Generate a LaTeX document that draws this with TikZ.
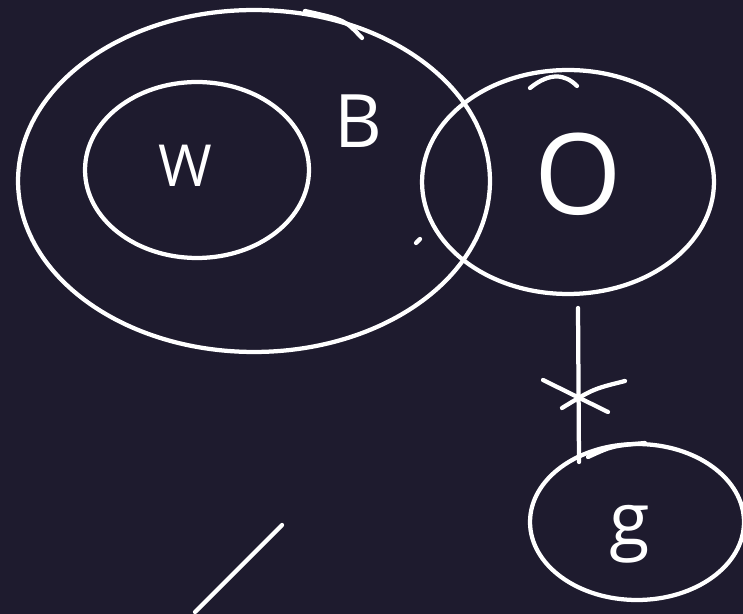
\documentclass[tikz,border=0pt]{standalone}
\usepackage{fontspec}
\setmainfont{Open Sans}
\usetikzlibrary{shapes.geometric}
\definecolor{board}{RGB}{30,27,46}

\begin{document}
\begin{tikzpicture}[x=0.02cm,y=-0.02cm,line width=0.085cm,line cap=round,white]
    \tikzset{set/.style={draw,ellipse,inner sep=0pt},
             letter/.style={anchor=base,text=white,font=\fontsize{#1}{#1}\selectfont}}
    \fill [board] (0,0) rectangle (743,614);
    \useasboundingbox (0,0) rectangle (743,614);
    % the sets
    \node [set,minimum width=9.44cm,minimum height=6.84cm] (B) at (254,181) {};
    \node [set,minimum width=4.48cm,minimum height=3.52cm] (W) at (197,170) {};
    \node [set,minimum width=5.84cm,minimum height=4.48cm] (O) at (568,182) {};
    \node [set,minimum width=4.28cm,minimum height=3.12cm] (G) at (637,522) {};
    % overshooting ends of the strokes
    \draw (305,11) .. controls (345,20) .. (362,38);
    \draw (530,88) .. controls (550,72) and (565,74) .. (577,86);
    \draw (588,457) .. controls (612,446) .. (645,443);
    % letters
    \node [letter=33] (w) at (185,187) {W};
    \node [letter=42] (b) at (358,148) {B};
    \node [letter=64] (o) at (578,215) {O};
    \node [letter=42] (g) at (630,545) {g};
    % link from O to G, crossed out
    \coordinate (top) at (578,308);
    \coordinate (bot) at (579,462);
    \coordinate (cut) at (578,397);
    \draw (top) -- (bot);
    \draw ([shift={(-35,-17)}]cut) -- ([shift={(30,15)}]cut);
    \draw ([shift={(-16,11)}]cut) .. controls ([shift={(15,-8)}]cut) .. ([shift={(47,-16)}]cut);
    % stray marks
    \draw (416,243) -- (420,239);
    \coordinate (s1) at (282,525);
    \coordinate (s2) at (195,612);
    \draw (s1) -- (s2);
\end{tikzpicture}
\end{document}
